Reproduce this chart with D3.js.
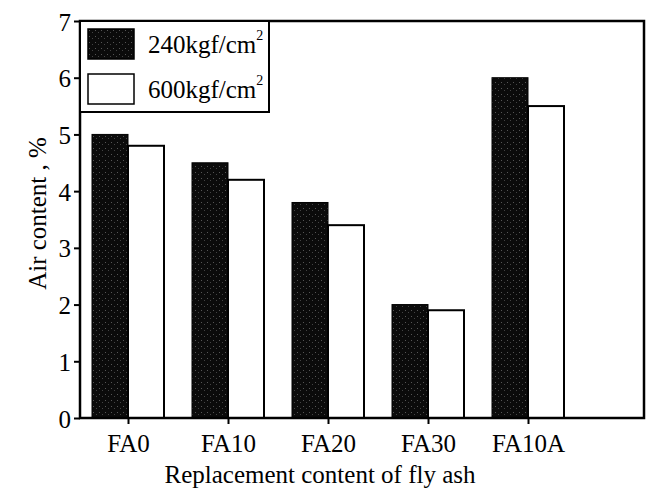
<!DOCTYPE html>
<html>
<head>
<meta charset="utf-8">
<script src="https://cdn.jsdelivr.net/npm/d3@7"></script>
<style>
  body { margin: 0; background: #fff; }
  svg text { font-family: "Liberation Serif", "DejaVu Serif", serif; }
</style>
</head>
<body>
<div id="chart"></div>
<script>
/* Data */
const categories = ["FA0", "FA10", "FA20", "FA30", "FA10A"]
const series = ["240kgf/cm", "600kgf/cm"]
const low = [5.0, 4.5, 3.8, 2.0, 6.0]
const high = [4.8, 4.2, 3.4, 1.9, 5.5]
const yTicks = [0, 1, 2, 3, 4, 5, 6, 7]

const serif = "'Liberation Serif', 'DejaVu Serif', serif"

/* Dimensions */
const dimensions = {
  width: 649,
  height: 492,
  margin: { top: 21, right: 5, bottom: 74, left: 80 }
}
dimensions.boundedWidth = dimensions.width - dimensions.margin.left - dimensions.margin.right
dimensions.boundedHeight = dimensions.height - dimensions.margin.top - dimensions.margin.bottom

const svg = d3.select("#chart").append("svg")
    .attr("width", dimensions.width)
    .attr("height", dimensions.height)
    .attr("font-family", serif)

// stippled black fill
const defs = svg.append("defs")
const pat = defs.append("pattern")
    .attr("id", "stipple")
    .attr("patternUnits", "userSpaceOnUse")
    .attr("width", 6).attr("height", 6)
pat.append("rect").attr("width", 6).attr("height", 6).attr("fill", "#0b0b0b")
pat.append("rect").attr("x", 1).attr("y", 1).attr("width", 1).attr("height", 1).attr("fill", "#555")
pat.append("rect").attr("x", 4).attr("y", 3).attr("width", 1).attr("height", 1).attr("fill", "#444")

const bounds = svg.append("g")
    .attr("transform", `translate(${dimensions.margin.left},${dimensions.margin.top})`)

/* Scales */
const xScale = d3.scaleLinear()
    .domain([0.52, 6.16])
    .range([0, dimensions.boundedWidth])

const yScale = d3.scaleLinear()
    .domain([0, 7])
    .range([dimensions.boundedHeight, 0])

const barWidth = xScale(1.36) - xScale(1)

/* Bars */
const groups = bounds.selectAll("g.cat")
    .data(categories)
    .enter().append("g")
    .attr("class", "cat")

groups.append("rect")
    .attr("x", (d, i) => xScale(i + 1) - barWidth)
    .attr("y", (d, i) => yScale(low[i]))
    .attr("width", barWidth)
    .attr("height", (d, i) => yScale(0) - yScale(low[i]))
    .attr("fill", "url(#stipple)")
    .attr("stroke", "#000")
    .attr("stroke-width", 1)

groups.append("rect")
    .attr("x", (d, i) => xScale(i + 1))
    .attr("y", (d, i) => yScale(high[i]))
    .attr("width", barWidth)
    .attr("height", (d, i) => yScale(0) - yScale(high[i]))
    .attr("fill", "#fff")
    .attr("stroke", "#000")
    .attr("stroke-width", 2)

/* Axes */
const yAxis = bounds.append("g")
    .call(d3.axisLeft(yScale).tickValues(yTicks).tickSize(6).tickPadding(3).tickFormat(d3.format("d")))
const xAxis = bounds.append("g")
    .attr("transform", `translate(0,${dimensions.boundedHeight})`)
    .call(d3.axisBottom(xScale).tickValues([1, 2, 3, 4, 5]).tickSize(6).tickPadding(10)
      .tickFormat(d => categories[d - 1]))

for (const ax of [yAxis, xAxis]) {
  ax.attr("font-family", serif).attr("font-size", 25)
  ax.select(".domain").remove()
  ax.selectAll("line").attr("stroke-width", 2)
  ax.selectAll("text").attr("fill", "#000")
}
yAxis.selectAll("text").attr("dy", "0.36em")

// frame
bounds.append("rect")
    .attr("width", dimensions.boundedWidth)
    .attr("height", dimensions.boundedHeight)
    .attr("fill", "none")
    .attr("stroke", "#000")
    .attr("stroke-width", 2.5)

/* Legend */
const legend = bounds.append("g")
legend.append("rect")
    .attr("x", 0).attr("y", 0)
    .attr("width", 189).attr("height", 91)
    .attr("fill", "#fff")
    .attr("stroke", "#000")
    .attr("stroke-width", 2)

const fills = ["url(#stipple)", "#fff"]
const items = legend.selectAll("g.item")
    .data(series)
    .enter().append("g")
    .attr("transform", (d, i) => `translate(8,${8 + i * 45})`)

items.append("rect")
    .attr("width", 46).attr("height", 30)
    .attr("fill", (d, i) => fills[i])
    .attr("stroke", "#000")
    .attr("stroke-width", 1.5)

const label = items.append("text")
    .attr("x", 60).attr("y", 24)
    .attr("font-size", 25)
label.append("tspan").text(d => d)
label.append("tspan")
    .attr("dy", -13)
    .attr("font-size", 14)
    .text("2")

/* Titles */
svg.append("text")
    .attr("x", 320)
    .attr("y", 483)
    .attr("text-anchor", "middle")
    .attr("font-size", 25)
    .text("Replacement content of fly ash")

svg.append("text")
    .attr("transform", `translate(46,${dimensions.margin.top + dimensions.boundedHeight / 2 - 6}) rotate(-90)`)
    .attr("text-anchor", "middle")
    .attr("font-size", 25)
    .text("Air content , %")
</script>
</body>
</html>
